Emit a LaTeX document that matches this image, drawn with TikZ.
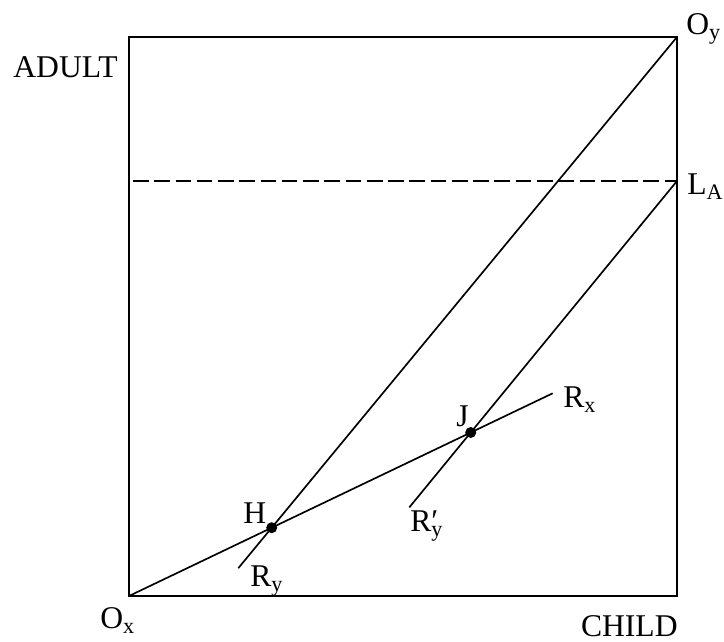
\documentclass[tikz,border=0pt]{standalone}
\usepackage{fontspec}
\setmainfont{Liberation Serif}
\usetikzlibrary{positioning, calc}
\tikzset{
    lbl/.style={inner sep=0pt, font=\fontsize{18}{20}\selectfont},
    ln/.style={line width=0.95pt},
    pt/.style={circle, fill=black, inner sep=0pt, minimum size=0.22cm}
}

\begin{document}
\begin{tikzpicture}
    \useasboundingbox (0,0) rectangle (14.48,12.84);

    % Các góc của hộp
    \coordinate (Ox) at (2.58,0.92);
    \coordinate (Oy) at (13.54,12.1);
    \coordinate (TL) at (2.58,12.1);
    \coordinate (LA) at (13.54,9.22);
    \coordinate (LL) at (2.66,9.22);

    % Hộp
    \draw[line width=1.1pt] (Ox) rectangle (Oy);

    % Đường gạch ngang L_A
    \draw[line width=1.2pt, dash pattern=on 8.9pt off 3.2pt] (LL) -- (LA);

    % Đường R_x từ O_x
    \coordinate (Rx) at (11.054,4.974);
    \draw[ln] (Ox) -- (Rx);

    % Điểm H và J trên R_x
    \node[pt] (H) at ($(Ox)!0.3368!(Rx)$) {};
    \node[pt] (J) at ($(Ox)!0.8065!(Rx)$) {};

    % Đường R_y qua O_y và H
    \coordinate (Ry) at ($(Oy)!1.0824!(H.center)$);
    \draw[ln] (Oy) -- (Ry);

    % Đường R'_y qua L_A và J
    \coordinate (Ryp) at ($(LA)!1.2976!(J.center)$);
    \draw[ln] (LA) -- (Ryp);

    % Nhãn
    \node[lbl, anchor=base west] (adult) at (0.26,11.28) {ADULT};
    \node[lbl, anchor=base east] (child) at (13.56,0.1) {CHILD};
    \node[lbl, anchor=base west] (oylbl) at (13.72,12.14) {O\textsubscript{y}};
    \node[lbl, anchor=base west] (lalbl) at (13.74,8.94) {L\textsubscript{A}};
    \node[lbl, anchor=base west] (oxlbl) at (2.0,0.26) {O\textsubscript{x}};
    \node[lbl, anchor=base west] (hlbl) at (4.86,2.36) {H};
    \node[lbl, anchor=base west] (jlbl) at (9.12,4.3) {J};
    \node[lbl, anchor=base west] (rxlbl) at (11.26,4.68) {R\textsubscript{x}};
    \node[lbl, anchor=base west] (rylbl) at (5.0,1.1) {R\textsubscript{y}};
    \node[lbl, anchor=base west] (ryplbl) at (8.2,2.2) {R\rlap{′}\textsubscript{y}};
\end{tikzpicture}
\end{document}
